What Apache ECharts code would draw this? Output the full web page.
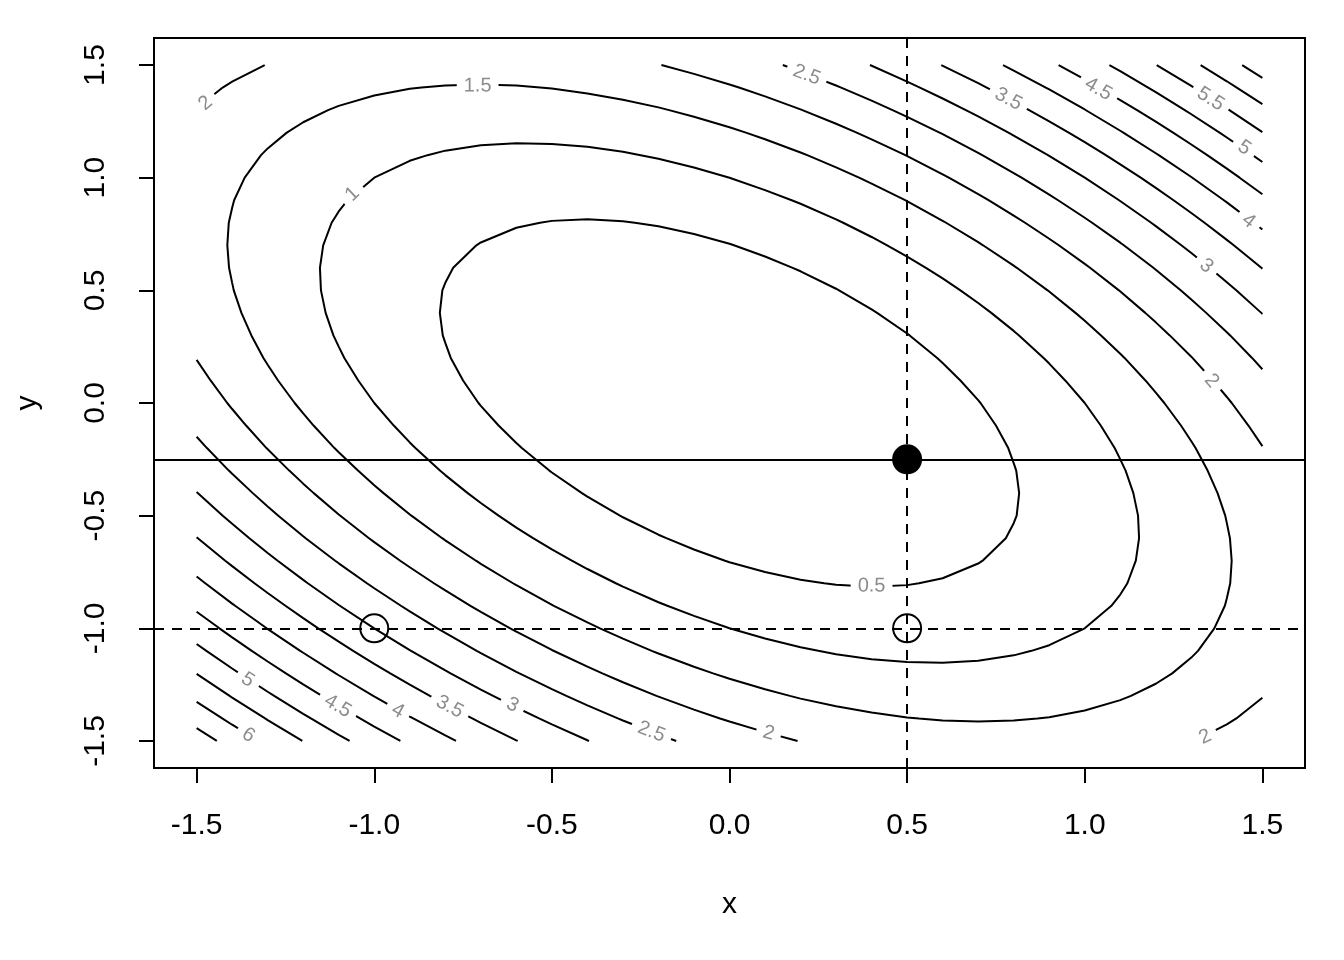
<!DOCTYPE html>
<html>
<head>
<meta charset="utf-8">
<script src="https://cdn.jsdelivr.net/npm/echarts@6/dist/echarts.min.js"></script>
<style>html,body{margin:0;padding:0;background:#fff}#c{width:1344px;height:960px}</style>
</head>
<body>
<div id="c"></div>
<script>
// Surface shown: f(x, y) = x^2 + x*y + y^2 sampled on a regular grid (as R contour() does)
const gridX = [-1.5,-1.4,-1.3,-1.2,-1.1,-1.0,-0.9,-0.8,-0.7,-0.6,-0.5,-0.4,-0.3,-0.2,-0.1,0.0,0.1,0.2,0.3,0.4,0.5,0.6,0.7,0.8,0.9,1.0,1.1,1.2,1.3,1.4,1.5];
const gridY = [-1.5,-1.4,-1.3,-1.2,-1.1,-1.0,-0.9,-0.8,-0.7,-0.6,-0.5,-0.4,-0.3,-0.2,-0.1,0.0,0.1,0.2,0.3,0.4,0.5,0.6,0.7,0.8,0.9,1.0,1.1,1.2,1.3,1.4,1.5];
const surfaceCoef = [1, 1, 1]; // a*x^2 + b*x*y + c*y^2
const levels = [0.5,1,1.5,2,2.5,3,3.5,4,4.5,5,5.5,6,6.5];
const tickValues = [-1.5,-1.0,-0.5,0.0,0.5,1.0,1.5];
const axisRange = [-1.62, 1.62];

// contour labels: [text, x, y]
const contourLabels = [
  ["2",-1.475,1.331],["1.5",-0.709,1.407],["1",-1.061,0.927],
  ["2.5",0.217,1.456],["3.5",0.785,1.349],["4.5",1.038,1.393],["5.5",1.354,1.349],
  ["5",1.449,1.132],["4",1.461,0.808],["3",1.342,0.608],["2",1.357,0.098],
  ["0.5",0.400,-0.812],
  ["2.5",-0.220,-1.460],["2",0.110,-1.465],["3",-0.611,-1.340],["3.5",-0.788,-1.349],
  ["4",-0.934,-1.367],["4.5",-1.103,-1.345],["5",-1.356,-1.229],["6",-1.354,-1.474],
  ["2",1.339,-1.482]
];

const vLineDashed = [0.5];
const hLineSolid = [-0.25];
const hLineDashed = [-1.0];
const filledPoints = [[0.5,-0.25]];
const openPoints = [[-1.0,-1.0],[0.5,-1.0]];

function surface(x,y){ return surfaceCoef[0]*x*x + surfaceCoef[1]*x*y + surfaceCoef[2]*y*y; }

const Z = gridX.map(x => gridY.map(y => surface(x,y)));

function contourPolylines(L){
  const nx = gridX.length, ny = gridY.length;
  const pts = {};
  function edgePoint(key, xa, ya, za, xb, yb, zb){
    if (!pts[key]) { const t = (L - za)/(zb - za); pts[key] = [xa + t*(xb-xa), ya + t*(yb-ya)]; }
    return key;
  }
  const segs = [];
  for (let i=0;i<nx-1;i++) for (let j=0;j<ny-1;j++){
    const z00=Z[i][j], z10=Z[i+1][j], z11=Z[i+1][j+1], z01=Z[i][j+1];
    const ks=[];
    if ((z00>=L)!==(z10>=L)) ks.push(edgePoint('h'+i+','+j, gridX[i],gridY[j],z00, gridX[i+1],gridY[j],z10));
    if ((z10>=L)!==(z11>=L)) ks.push(edgePoint('v'+(i+1)+','+j, gridX[i+1],gridY[j],z10, gridX[i+1],gridY[j+1],z11));
    if ((z01>=L)!==(z11>=L)) ks.push(edgePoint('h'+i+','+(j+1), gridX[i],gridY[j+1],z01, gridX[i+1],gridY[j+1],z11));
    if ((z00>=L)!==(z01>=L)) ks.push(edgePoint('v'+i+','+j, gridX[i],gridY[j],z00, gridX[i],gridY[j+1],z01));
    if (ks.length===2) segs.push([ks[0],ks[1]]);
    else if (ks.length===4){ segs.push([ks[0],ks[1]]); segs.push([ks[2],ks[3]]); }
  }
  const adj = {};
  segs.forEach((s,idx)=>{ (adj[s[0]]=adj[s[0]]||[]).push(idx); (adj[s[1]]=adj[s[1]]||[]).push(idx); });
  const used = new Array(segs.length).fill(false);
  const lines = [];
  function walk(startKey){
    const chain=[startKey]; let cur=startKey;
    while(true){
      const nxt = (adj[cur]||[]).find(id=>!used[id]);
      if (nxt===undefined) break;
      used[nxt]=true;
      const s=segs[nxt]; cur = s[0]===cur ? s[1] : s[0];
      chain.push(cur);
    }
    return chain.map(k=>pts[k]);
  }
  Object.keys(adj).forEach(k=>{ if (adj[k].length===1 && !used[adj[k][0]]) lines.push(walk(k)); });
  segs.forEach((s,idx)=>{ if(!used[idx]) lines.push(walk(s[0])); });
  return lines;
}

const series = [];
levels.forEach(L=>{
  contourPolylines(L).forEach(pl=>{
    series.push({type:'line', data:pl, symbol:'none', silent:true, z:2, animation:false,
      lineStyle:{color:'#000', width:2}, clip:true});
  });
});

function labelAngle(api, x, y){
  const gx = 2*surfaceCoef[0]*x + surfaceCoef[1]*y, gy = surfaceCoef[1]*x + 2*surfaceCoef[2]*y;
  const p0 = api.coord([x, y]);
  const p1 = api.coord([x - gy*0.01, y + gx*0.01]);
  let a = Math.atan2(-(p1[1]-p0[1]), p1[0]-p0[0]);
  while (a > Math.PI/2) a -= Math.PI; while (a <= -Math.PI/2) a += Math.PI;
  return a;
}
const font = 'Liberation Sans, Arial, sans-serif';
series.push({type:'custom', z:3, silent:true, animation:false,
  coordinateSystem:'cartesian2d',
  data: contourLabels.map(l=>[l[1], l[2], l[0]]),
  encode:{x:0, y:1},
  renderItem: function(params, api){
    const x = api.value(0), y = api.value(1);
    const txt = contourLabels[params.dataIndex][0];
    const p = api.coord([x, y]);
    return {type:'text', x:p[0], y:p[1], rotation: labelAngle(api, x, y),
      style:{text: txt, fill:'#8c8c8c', fontSize:20, fontFamily:font,
        align:'center', verticalAlign:'middle', backgroundColor:'#fff', padding:[0,7,0,7]}};
  }
});

series.push({type:'line', data:[], z:4, silent:true, animation:false,
  markLine:{silent:true, symbol:['none','none'], animation:false, label:{show:false},
    data:[
      ...hLineSolid.map(v=>({yAxis:v, lineStyle:{type:'solid', color:'#000', width:2}})),
      ...hLineDashed.map(v=>({yAxis:v, lineStyle:{type:[10,8], color:'#000', width:2}})),
      ...vLineDashed.map(v=>({xAxis:v, lineStyle:{type:[10,8], color:'#000', width:2}}))
    ]}
});
series.push({type:'scatter', z:5, silent:true, animation:false, data:filledPoints, symbol:'circle', symbolSize:30,
  itemStyle:{color:'#000', opacity:1}});
series.push({type:'scatter', z:5, silent:true, animation:false, data:openPoints, symbol:'circle', symbolSize:28,
  itemStyle:{color:'rgba(0,0,0,0)', borderColor:'#000', borderWidth:2, opacity:1}});

const chart = echarts.init(document.getElementById('c'), null, {renderer:'canvas'});
chart.setOption({
  backgroundColor:'#fff',
  animation:false,
  grid:{left:154, right:39, top:38, bottom:192, show:true, borderColor:'#000', borderWidth:2, backgroundColor:'transparent', containLabel:false},
  xAxis:{type:'value', min:axisRange[0], max:axisRange[1], name:'x', nameLocation:'middle', nameGap:122,
    nameTextStyle:{fontSize:30, color:'#000', fontFamily:font},
    axisLine:{show:false, onZero:false}, splitLine:{show:false},
    axisTick:{show:true, length:15, lineStyle:{color:'#000', width:2}, customValues:tickValues},
    axisLabel:{show:true, customValues:tickValues, formatter:v=>v.toFixed(1), fontSize:30, color:'#000', fontFamily:font, margin:43}},
  yAxis:{type:'value', min:axisRange[0], max:axisRange[1], name:'y', nameLocation:'middle', nameGap:111,
    nameTextStyle:{fontSize:30, color:'#000', fontFamily:font},
    axisLine:{show:false, onZero:false}, splitLine:{show:false},
    axisTick:{show:true, length:15, lineStyle:{color:'#000', width:2}, customValues:tickValues},
    axisLabel:{show:true, rotate:90, customValues:tickValues, formatter:v=>v.toFixed(1), fontSize:30, color:'#000', fontFamily:font, margin:43}},
  series: series
});
</script>
</body>
</html>
